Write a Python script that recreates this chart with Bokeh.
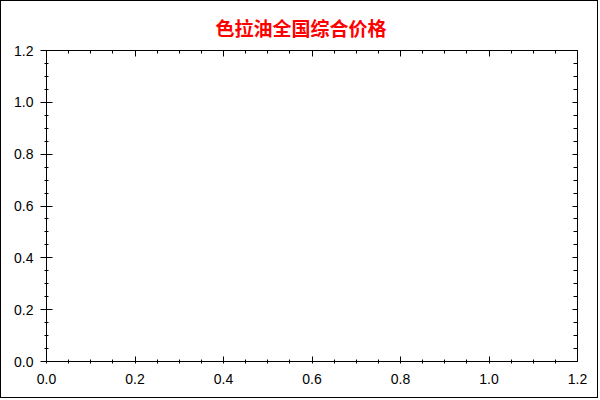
from bokeh.plotting import figure
from bokeh.models import (Range1d, LinearAxis, FixedTicker,
                          NumeralTickFormatter, Title)
from bokeh.embed import file_html
from bokeh.resources import INLINE

# series: the reference chart shows no data points
dates = []
prices = []

x_start, x_end = 0.0, 1.2
y_start, y_end = 0.0, 1.2
major_ticks = [0.0, 0.2, 0.4, 0.6, 0.8, 1.0, 1.2]
minor_ticks = [i * 0.05 for i in range(25)]

p = figure(width=598, height=398, output_backend="svg", toolbar_location=None,
           x_range=Range1d(x_start, x_end), y_range=Range1d(y_start, y_end),
           x_axis_location=None, y_axis_location=None,
           min_border_left=45, min_border_right=22,
           min_border_top=49, min_border_bottom=38)
p.styles = {"border": "1px solid #000000"}
p.outline_line_color = None
p.xgrid.visible = False
p.ygrid.visible = False

p.line(dates, prices, line_color="#c23531", line_width=2)


def make_axis(show_labels, maj_in, maj_out, min_in, min_out):
    ax = LinearAxis(ticker=FixedTicker(ticks=major_ticks, minor_ticks=minor_ticks),
                    formatter=NumeralTickFormatter(format="0.0"))
    ax.axis_line_color = "#000000"
    ax.major_tick_line_color = "#000000"
    ax.minor_tick_line_color = "#000000"
    ax.major_tick_in = maj_in
    ax.major_tick_out = maj_out
    ax.minor_tick_in = min_in
    ax.minor_tick_out = min_out
    ax.major_label_text_font = "Liberation Sans"
    if show_labels:
        ax.major_label_text_font_size = "14px"
        ax.major_label_text_color = "#000000"
    else:
        ax.major_label_text_font_size = "0px"
        ax.major_label_text_color = None
        ax.major_label_standoff = 0
    return ax


left = make_axis(True, 6, 6, 2, 2)
left.major_label_standoff = 7
bottom = make_axis(True, 5, 0, 2, 2)
bottom.major_label_standoff = 10
top = make_axis(False, 6, 0, 3, 0)
right = make_axis(False, 5, 0, 4, 0)

p.add_layout(left, "left")
p.add_layout(bottom, "below")
p.add_layout(top, "above")
p.add_layout(right, "right")

title = Title(text="色拉油全国综合价格", align="left", text_color="#ff0000",
              text_font="Noto Sans CJK SC", text_font_size="19px",
              text_font_style="bold", offset=169, standoff=20)
p.add_layout(title, "above")

open("out.html", "w").write(file_html(p, INLINE))
